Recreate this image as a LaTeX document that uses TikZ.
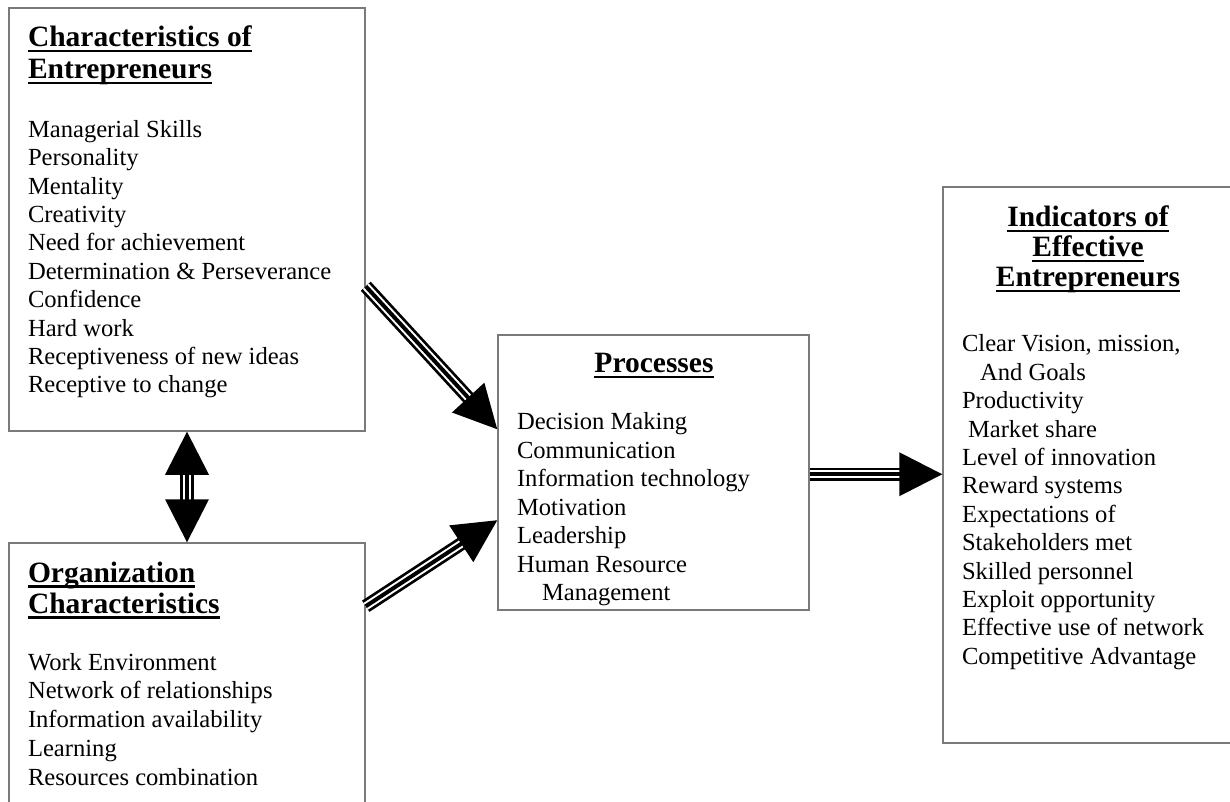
\documentclass[tikz,border=0pt]{standalone}
\usepackage{fontspec}
\setmainfont{Liberation Serif}
\usetikzlibrary{calc}
\definecolor{boxgray}{HTML}{7A7A7A}
\newcommand\ulbox[1]{\leavevmode\setbox0\hbox{#1}\rlap{\rule[-5.5pt]{\wd0}{2.2pt}}\box0}
\newcommand\bodyfont{\fontsize{24.6pt}{28.4pt}\selectfont}
\newcommand\titlefont[1]{\fontsize{29.5pt}{#1}\selectfont\bfseries}
\tikzset{
  box/.style={draw=boxgray, line width=1.5pt, rectangle, inner sep=0pt, fill=none},
  txt/.style={inner sep=0pt, outer sep=0pt},
  shaftout/.style={line width=13.5pt, line cap=butt, black},
  shaftmid/.style={line width=8pt, line cap=butt, white},
  shaftin/.style={line width=4pt, line cap=butt, black},
}
\newcommand\triplearrow[2]{%
  \coordinate (ta) at (#1);
  \coordinate (tb) at (#2);
  \coordinate (th) at ($(tb)!43pt!(ta)$);
  \coordinate (ts) at ($(tb)!40pt!(ta)$);
  \draw[shaftout] (ta) -- (ts);
  \draw[shaftmid] (ta) -- (ts);
  \draw[shaftin] (ta) -- (ts);
  \fill ($(th)!22pt!90:(tb)$) -- (tb) -- ($(th)!22pt!-90:(tb)$) -- cycle;
}
\newcommand\dtriplearrow[2]{%
  \coordinate (ta) at (#1);
  \coordinate (tb) at (#2);
  \coordinate (tha) at ($(ta)!43pt!(tb)$);
  \coordinate (tsa) at ($(ta)!40pt!(tb)$);
  \coordinate (thb) at ($(tb)!43pt!(ta)$);
  \coordinate (tsb) at ($(tb)!40pt!(ta)$);
  \draw[shaftout] (tsa) -- (tsb);
  \draw[shaftmid] (tsa) -- (tsb);
  \draw[shaftin] (tsa) -- (tsb);
  \fill ($(thb)!22pt!90:(tb)$) -- (tb) -- ($(thb)!22pt!-90:(tb)$) -- cycle;
  \fill ($(tha)!22pt!90:(ta)$) -- (ta) -- ($(tha)!22pt!-90:(ta)$) -- cycle;
}
\begin{document}
\begin{tikzpicture}[x=1pt,y=1pt]
\useasboundingbox (0,0) rectangle (1230,801);
\clip (0,0) rectangle (1230,801);
\fill[white] (0,0) rectangle (1230,801);

% boxes
\node[box, minimum width=356pt, minimum height=423pt] (c1) at (187,581.5) {};
\node[box, minimum width=356pt, minimum height=278pt] (org) at (187,119) {};
\node[box, minimum width=311pt, minimum height=275pt] (proc) at (653.5,328.5) {};
\node[box, minimum width=300pt, minimum height=556pt] (ind) at (1093,336) {};

% box 1 text
\node[txt, anchor=base west] (c1t) at (28,754) {\parbox[t]{330pt}{\titlefont{32pt}\raggedright
  \ulbox{Characteristics of}\\ \ulbox{Entrepreneurs}}};
\node[txt, anchor=base west] (c1b) at (28,663.6) {\parbox[t]{335pt}{\bodyfont\raggedright
  Managerial Skills\\
  Personality\\
  Mentality\\
  Creativity\\
  Need for achievement\\
  Determination \& Perseverance\\
  Confidence\\
  Hard work\\
  Receptiveness of new ideas\\
  Receptive to change}};

% box 2 text
\node[txt, anchor=base west] (orgt) at (28,219) {\parbox[t]{330pt}{\titlefont{31pt}\raggedright
  \ulbox{Organization}\\ \ulbox{Characteristics}}};
\node[txt, anchor=base west] (orgb) at (28,131) {\parbox[t]{330pt}{\fontsize{24.6pt}{28.75pt}\selectfont\raggedright
  Work Environment\\
  Network of relationships\\
  Information availability\\
  Learning\\
  Resources combination}};

% box 3 text
\node[txt, anchor=base] (proct) at (654,428) {\parbox[t]{290pt}{\titlefont{31pt}\centering
  \ulbox{Processes}}};
\node[txt, anchor=base west] (procb) at (517,371) {\parbox[t]{290pt}{\bodyfont\raggedright
  Decision Making\\
  Communication\\
  Information technology\\
  Motivation\\
  Leadership\\
  Human Resource\\
  \hspace*{25pt}Management}};

% box 4 text
\node[txt, anchor=base] (indt) at (1088,574) {\parbox[t]{280pt}{\titlefont{30pt}\centering
  \ulbox{Indicators of}\\ \ulbox{Effective}\\ \ulbox{Entrepreneurs}}};
\node[txt, anchor=base west] (indb) at (962,449) {\parbox[t]{265pt}{\bodyfont\raggedright
  Clear Vision, mission,\\
  \hspace*{18pt}And Goals\\
  Productivity\\
  \hspace*{6pt}Market share\\
  Level of innovation\\
  Reward systems\\
  Expectations of\\
  Stakeholders met\\
  Skilled personnel\\
  Exploit opportunity\\
  Effective use of network\\
  Competitive Advantage}};

% arrows
\triplearrow{[yshift=-279pt]c1.north east}{[yshift=-95pt]proc.north west}
\triplearrow{[yshift=-64pt]org.north east}{[yshift=-186pt]proc.north west}
\triplearrow{[yshift=-140pt]proc.north east}{[yshift=-288pt]ind.north west}
\dtriplearrow{c1.south}{org.north}
\end{tikzpicture}
\end{document}
